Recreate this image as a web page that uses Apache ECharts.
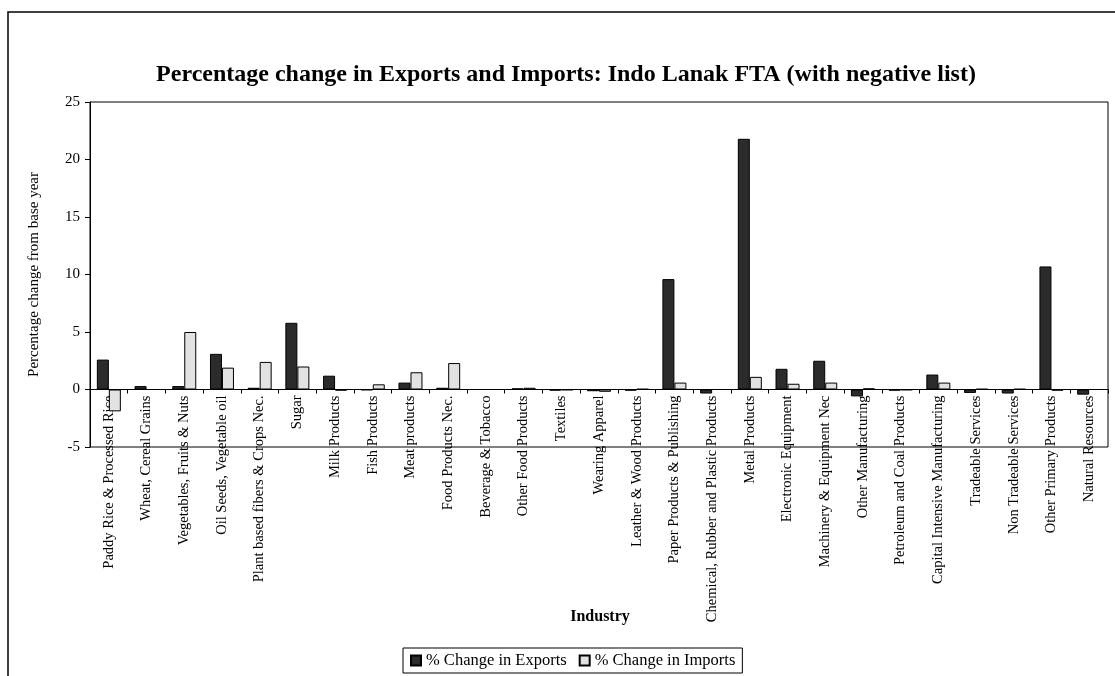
<!DOCTYPE html>
<html>
<head>
<meta charset="utf-8">
<script src="https://cdn.jsdelivr.net/npm/echarts@6/dist/echarts.min.js"></script>
<style>
  html, body { margin: 0; padding: 0; background: #fff; }
  #chart { width: 1115px; height: 676px; }
</style>
</head>
<body>
<div id="chart"></div>
<script>
// industries on the x axis
const industries = [
    'Paddy Rice & Processed Rice', 'Wheat, Cereal Grains', 'Vegetables, Fruits & Nuts',
    'Oil Seeds, Vegetable oil', 'Plant based fibers & Crops Nec.', 'Sugar', 'Milk Products',
    'Fish Products', 'Meat products', 'Food Products Nec.', 'Beverage & Tobacco',
    'Other Food Products', 'Textiles', 'Wearing Apparel', 'Leather & Wood Products',
    'Paper Products & Publishing', 'Chemical, Rubber and Plastic Products', 'Metal Products',
    'Electronic Equipment', 'Machinery & Equipment Nec', 'Other Manufacturing',
    'Petroleum and Coal Products', 'Capital Intensive Manufacturing', 'Tradeable Services',
    'Non Tradeable Services', 'Other Primary Products', 'Natural Resources'
];

// % change values
const exportsChange = [
    2.6, 0.3, 0.3, 3.1, 0.15, 5.8, 1.2, -0.05, 0.6, 0.15, 0,
    0.1, -0.1, -0.15, -0.1, 9.6, -0.35, 21.8, 1.8, 2.5, -0.6,
    -0.1, 1.3, -0.3, -0.35, 10.7, -0.45
];
const importsChange = [
    -1.9, 0, 5.0, 1.9, 2.4, 2.0, -0.1, 0.45, 1.5, 2.3, 0,
    0.15, -0.05, -0.2, 0.05, 0.6, 0, 1.1, 0.5, 0.6, 0.1,
    -0.05, 0.6, 0.05, 0.05, -0.1, 0
];

const yTicks = { min: -5, max: 25, interval: 5 };
const serif = '"Liberation Serif", "DejaVu Serif", serif';

// plot box
const gridTop = 102, gridBottom = 229, chartH = 676;
const plotH = chartH - gridTop - gridBottom;
// distance from the bottom edge up to the zero line
const zeroLift = plotH * (0 - yTicks.min) / (yTicks.max - yTicks.min);

const chart = echarts.init(document.getElementById('chart'));

const option = {
    backgroundColor: '#fff',
    animation: false,
    textStyle: { fontFamily: serif, color: '#000' },
    title: {
        text: 'Percentage change in Exports and Imports: Indo Lanak FTA (with negative list)',
        left: 561,
        textAlign: 'center',
        top: 58,
        textStyle: { fontFamily: serif, fontSize: 24, fontWeight: 'bold', color: '#000' }
    },
    legend: {
        data: ['% Change in Exports', '% Change in Imports'],
        left: 403,
        bottom: 3,
        itemWidth: 10,
        itemHeight: 10,
        itemGap: 12,
        padding: [4, 7],
        borderColor: '#000',
        borderWidth: 1,
        icon: 'rect',
        textStyle: { fontFamily: serif, fontSize: 16.5, color: '#000' }
    },
    grid: {
        left: 90, right: 7, top: gridTop, bottom: gridBottom,
        show: true, borderColor: '#000', borderWidth: 1, backgroundColor: 'transparent'
    },
    xAxis: {
        type: 'category',
        data: industries,
        offset: -zeroLift,
        axisLine: { onZero: false, lineStyle: { color: '#000', width: 1 } },
        axisTick: { show: true, length: 4, lineStyle: { color: '#000' } },
        axisLabel: {
            rotate: 90, interval: 0, margin: 6,
            fontFamily: serif, fontSize: 14.5, color: '#000'
        }
    },
    yAxis: {
        type: 'value',
        min: yTicks.min, max: yTicks.max, interval: yTicks.interval,
        name: 'Percentage change from base year',
        nameLocation: 'middle',
        nameGap: 48,
        nameTextStyle: { fontFamily: serif, fontSize: 15, color: '#000' },
        axisLine: { show: true, lineStyle: { color: '#000' } },
        axisTick: { show: true, length: 5, lineStyle: { color: '#000' } },
        axisLabel: { fontFamily: serif, fontSize: 15, color: '#000', margin: 10 },
        splitLine: { show: false }
    },
    series: [
        {
            name: '% Change in Exports',
            type: 'bar',
            data: exportsChange,
            barWidth: 12,
            barGap: '0%',
            itemStyle: { color: '#2b2b2b', borderColor: '#000', borderWidth: 1 }
        },
        {
            name: '% Change in Imports',
            type: 'bar',
            data: importsChange,
            barWidth: 12,
            itemStyle: { color: '#e2e2e2', borderColor: '#000', borderWidth: 1 }
        }
    ],
    graphic: [
        {
            type: 'rect',
            shape: { x: 8, y: 12, width: 1130, height: 700 },
            style: { fill: 'none', stroke: '#000', lineWidth: 1.5 },
            silent: true
        },
        {
            type: 'text',
            x: 600,
            y: 617,
            style: {
                text: 'Industry', font: 'bold 16px ' + serif, fill: '#000',
                align: 'center', verticalAlign: 'middle'
            }
        }
    ]
};

chart.setOption(option);
</script>
</body>
</html>
